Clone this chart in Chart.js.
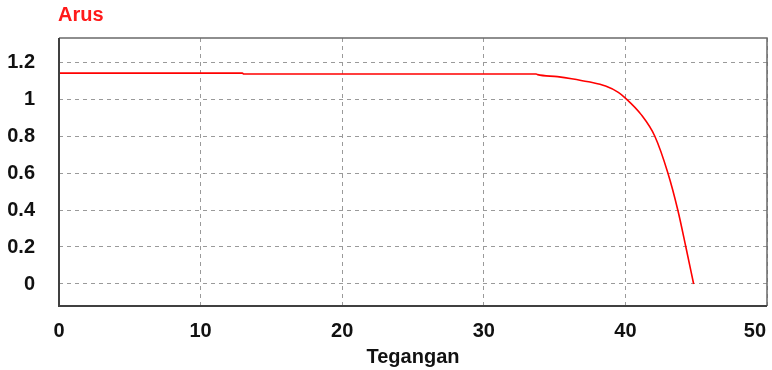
<!DOCTYPE html>
<html>
<head>
<meta charset="utf-8">
<script src="https://cdn.jsdelivr.net/npm/chart.js@4/dist/chart.umd.min.js"></script>
<style>
html,body{margin:0;padding:0;background:#fff;}
#wrap{width:772px;height:370px;position:relative;}
</style>
</head>
<body>
<div id="wrap"><canvas id="c" width="772" height="370"></canvas></div>
<script>
const voltage = [0, 12.95, 13.05, 33.7, 33.8, 35.2, 36.2, 37.4, 38.6, 39.5, 40.0, 41.1, 42.07, 43.0, 43.7, 44.27, 44.82];
const current = [1.14, 1.14, 1.135, 1.135, 1.132, 1.121, 1.11, 1.093, 1.07, 1.036, 1.005, 0.917, 0.8, 0.6, 0.4, 0.2, 0];
const xTicks = [0, 10, 20, 30, 40, 50];
const yTicks = [0, 0.2, 0.4, 0.6, 0.8, 1, 1.2];
const chartTitle = 'Arus';
const xTitle = 'Tegangan';

const points = voltage.map((v, i) => ({x: v, y: current[i]}));
const FONT = "'Liberation Sans', Arial, sans-serif";
const LAST_X = xTicks[xTicks.length - 1];

const frame = {
  id: 'frame',
  afterDraw(chart) {
    const {ctx, chartArea: a} = chart;
    ctx.save();
    ctx.strokeStyle = '#6a6a6a';
    ctx.lineWidth = 1.5;
    ctx.beginPath();
    ctx.moveTo(a.left, a.top); ctx.lineTo(a.right, a.top); ctx.lineTo(a.right, a.bottom);
    ctx.stroke();
    ctx.strokeStyle = '#404040';
    ctx.lineWidth = 2;
    ctx.beginPath();
    ctx.moveTo(a.left, a.top); ctx.lineTo(a.left, a.bottom); ctx.lineTo(a.right, a.bottom);
    ctx.stroke();
    // chart title
    ctx.fillStyle = '#ff1a1a';
    ctx.font = 'bold 20px ' + FONT;
    ctx.textAlign = 'left';
    ctx.textBaseline = 'middle';
    ctx.fillText(chartTitle, 58, 15);
    // last x tick label, shifted inward so it stays inside the canvas
    const items = chart.scales.x.getLabelItems();
    const it = items[items.length - 1];
    if (it) {
      ctx.fillStyle = '#111';
      ctx.font = it.font.string;
      ctx.textAlign = 'right';
      ctx.textBaseline = it.options.textBaseline;
      ctx.fillText(String(LAST_X), 766, it.options.translation[1] + it.textOffset);
    }
    ctx.restore();
  }
};

new Chart(document.getElementById('c'), {
  type: 'line',
  data: {
    datasets: [{
      data: points,
      borderColor: '#ff0000',
      borderWidth: 1.6,
      pointRadius: 0,
      fill: false,
      cubicInterpolationMode: 'monotone'
    }]
  },
  options: {
    responsive: false,
    animation: false,
    layout: {padding: {top: 38, right: 5, left: 0, bottom: 0}},
    plugins: {legend: {display: false}, tooltip: {enabled: false}, title: {display: false}},
    scales: {
      x: {
        type: 'linear', min: 0, max: 50,
        afterBuildTicks: s => { s.ticks = xTicks.map(v => ({value: v})); },
        afterFit: s => { s.height = 64; s.paddingLeft = 0; s.paddingRight = 0; },
        grid: {color: '#9a9a9a', lineWidth: 1, drawTicks: false},
        border: {display: false, dash: [4, 4]},
        ticks: {color: c => (c.tick && c.tick.value === LAST_X) ? 'rgba(0,0,0,0)' : '#111',
          padding: 13, font: {family: FONT, size: 20, weight: 'bold'}, maxRotation: 0},
        title: {display: true, text: xTitle, color: '#111', font: {family: FONT, size: 20, weight: 'bold'}, padding: {top: 0, bottom: 1}}
      },
      y: {
        type: 'linear', min: -0.119, max: 1.33,
        afterBuildTicks: s => { s.ticks = yTicks.map(v => ({value: v})); },
        afterFit: s => { s.width = 59; s.paddingTop = 0; s.paddingBottom = 0; },
        grid: {color: '#9a9a9a', lineWidth: 1, drawTicks: false},
        border: {display: false, dash: [4, 4]},
        ticks: {color: '#111', padding: 24, font: {family: FONT, size: 20, weight: 'bold'},
          callback: v => String(Math.round(v * 10) / 10)}
      }
    }
  },
  plugins: [frame]
});
</script>
</body>
</html>
